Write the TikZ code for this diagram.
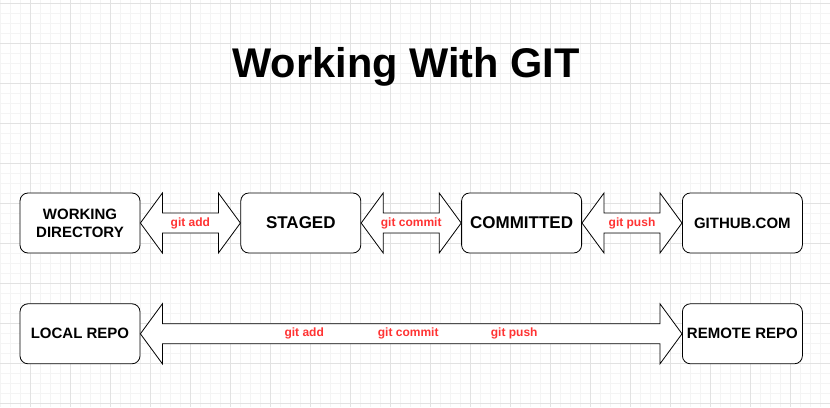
\documentclass[tikz,border=0pt]{standalone}
\usepackage{fontspec}
\setmainfont{Liberation Sans}
\usetikzlibrary{positioning,calc}
\definecolor{gitred}{RGB}{255,51,51}
\definecolor{gridmajor}{RGB}{226,226,226}
\definecolor{gridminor}{RGB}{244,244,244}

\tikzset{
    stagebox/.style={rectangle, rounded corners=8pt, draw, line width=0.8pt, fill=white,
        minimum width=120pt, minimum height=60pt, align=center, inner sep=0pt,
        font=\fontsize{15}{18}\selectfont\bfseries},
    arrowshape/.style={draw, line width=0.8pt, fill=white},
    gitlabel/.style={text=gitred, font=\fontsize{12}{14}\selectfont\bfseries, inner sep=1pt},
}

\newcommand{\gitarrow}[2]{%
    \draw[arrowshape] (#1.east) -- ++(22,30) -- ++(0,-20) -- ($(#2.west)+(-22,10)$)
        -- ++(0,20) -- (#2.west) -- ++(-22,-30) -- ++(0,20)
        -- ($(#1.east)+(22,-10)$) -- ++(0,-20) -- cycle;}

\begin{document}
\begin{tikzpicture}[x=1pt, y=1pt, node distance=100pt]
    \useasboundingbox (0,0) rectangle (830,-407);
    % background grid
    \foreach \x in {0,10,...,830} \draw[gridminor, line width=0.6pt] (\x,0) -- (\x,-407);
    \foreach \y in {3,13,...,403} \draw[gridminor, line width=0.6pt] (0,-\y) -- (830,-\y);
    \foreach \x in {30,70,...,830} \draw[gridmajor, line width=0.8pt] (\x,0) -- (\x,-407);
    \foreach \y in {3,43,...,403} \draw[gridmajor, line width=0.8pt] (0,-\y) -- (830,-\y);

    \node[anchor=base, font=\fontsize{41.5}{48}\selectfont\bfseries] (title) at (406,-77) {Working With GIT};

    \node[stagebox] (workdir) at (80,-223) {WORKING\\DIRECTORY};
    \node[stagebox, right=of workdir, font=\fontsize{17}{20}\selectfont\bfseries] (staged) {STAGED};
    \node[stagebox, right=of staged, font=\fontsize{17}{20}\selectfont\bfseries] (committed) {COMMITTED};
    \node[stagebox, right=of committed] (github) {GITHUB.COM};

    \node[stagebox, below=50pt of workdir] (localrepo) {LOCAL REPO};
    \node[stagebox, below=50pt of github] (remoterepo) {REMOTE REPO};

    \gitarrow{workdir}{staged}
    \gitarrow{staged}{committed}
    \gitarrow{committed}{github}
    \gitarrow{localrepo}{remoterepo}

    \node[gitlabel] (add) at ($(workdir.east)!0.5!(staged.west)$) {git add};
    \node[gitlabel] (commit) at ($(staged.east)!0.5!(committed.west)$) {git commit};
    \node[gitlabel] (push) at ($(committed.east)!0.5!(github.west)$) {git push};

    \node[gitlabel] (allcommit) at ($(localrepo.east)!0.5!(remoterepo.west)+(-3,0)$) {git commit};
    \node[gitlabel] (alladd) at ($(allcommit)+(-104,0)$) {git add};
    \node[gitlabel] (allpush) at ($(allcommit)+(106,0)$) {git push};
\end{tikzpicture}
\end{document}
